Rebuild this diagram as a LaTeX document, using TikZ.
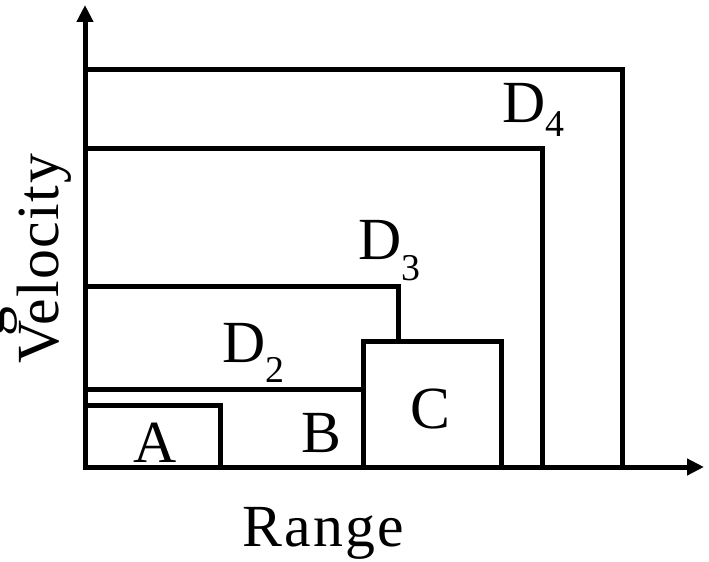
\documentclass[tikz,border=0pt]{standalone}
\usepackage{fontspec}
\setmainfont{Liberation Serif}
\usetikzlibrary{arrows.meta}
\newcommand{\bigfont}{\fontsize{60}{66}\selectfont}
\newcommand{\Dsub}[2]{D\raisebox{-#2bp}{\fontsize{38}{42}\selectfont #1}}
\begin{document}
\begin{tikzpicture}[x=1bp,y=-1bp,
  box/.style={draw=black,line width=5bp},
  axis/.style={draw=black,line width=5bp,-{Triangle[length=17bp,width=16bp]}},
  lab/.style={inner sep=0pt,anchor=base west,font=\bigfont}]
\useasboundingbox (0,0) rectangle (709,562);
% axes
\coordinate (O) at (85,467);
\coordinate (Ytip) at (85,5);
\coordinate (Xtip) at (704,467);
% boxes
\draw[box] (85,405) rectangle (220,467);
\draw[box] (85,389) rectangle (363,467);
\draw[box] (363,341) rectangle (501,467);
\draw[box] (85,286) -- (398,286) -- (398,341);
\draw[box] (85,149) -- (542,149) -- (542,467);
\draw[box] (85,70) -- (622,70) -- (622,467);
\draw[axis] (O) -- (Ytip);
\draw[axis] (O) -- (Xtip);
% labels
\node[lab] (A) at (133,462) {A};
\node[lab] (B) at (301,452) {B};
\node[lab] (C) at (410,428) {C};
\node[lab] (D2) at (222,362) {\Dsub{2}{20}};
\node[lab] (D3) at (358,260) {\Dsub{3}{21}};
\node[lab] (D4) at (502,123) {\Dsub{4}{14}};
\node[lab] (range) at (242,546) {\addfontfeature{LetterSpace=4}Range};
\node[lab,rotate=90] (vel) at (58,364) {\addfontfeature{LetterSpace=2.5}Velocity};
\node[inner sep=0pt,anchor=base,rotate=90,font=\bigfont] (g) at (4,322) {g};
\end{tikzpicture}
\end{document}
